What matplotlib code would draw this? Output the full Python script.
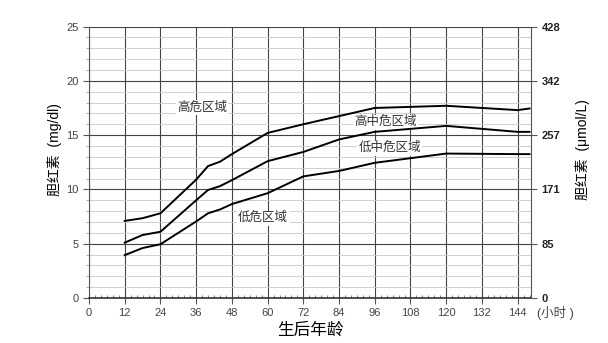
import matplotlib
matplotlib.use("Agg")
import matplotlib.pyplot as plt
from matplotlib.ticker import MultipleLocator

plt.rcParams['font.family'] = ['Liberation Sans', 'Noto Sans CJK SC', 'DejaVu Sans']

hours = [12, 18, 24, 36, 40, 44, 48, 60, 72, 84, 96, 120, 144, 148]
high = [7.1, 7.35, 7.8, 10.9, 12.15, 12.55, 13.25, 15.2, 16.0, 16.75, 17.5, 17.7, 17.3, 17.45]
mid = [5.1, 5.8, 6.1, 9.0, 9.95, 10.3, 10.85, 12.6, 13.45, 14.6, 15.3, 15.85, 15.3, 15.3]
low = [3.95, 4.6, 4.95, 7.05, 7.8, 8.15, 8.65, 9.65, 11.2, 11.7, 12.45, 13.3, 13.25, 13.25]

xticks = [0, 12, 24, 36, 48, 60, 72, 84, 96, 108, 120, 132, 144]
yticks = [0, 5, 10, 15, 20, 25]
right_labels = ["0", "85", "171", "257", "342", "428"]

zones = [("高危区域", 38, 17.5), ("高中危区域", 99.5, 16.2),
         ("低中危区域", 101, 13.8), ("低危区域", 58.5, 7.35)]

fig = plt.figure(figsize=(6.08, 3.43), dpi=100)
ax = fig.add_axes([0.1464, 0.1312, 0.7270, 0.7915])
ax.set_xlim(0, 148.5)
ax.set_ylim(0, 25)

ax.set_xticks(xticks)
ax.set_yticks(yticks)
ax.xaxis.set_minor_locator(MultipleLocator(2))
ax.yaxis.set_minor_locator(MultipleLocator(1))
ax.grid(True, which='major', color='#444444', linewidth=0.8)
ax.grid(True, which='minor', axis='y', color='#c8c8c8', linewidth=0.6)
ax.set_axisbelow(True)

for s in ['top', 'right']:
    ax.spines[s].set_visible(False)
ax.spines['left'].set_color('#555555')
ax.spines['bottom'].set_color('#333333')
ax.spines['bottom'].set_linewidth(1.2)

ax.tick_params(axis='both', which='major', labelsize=8, colors='#555555', length=4, width=0.8)
ax.tick_params(axis='x', which='minor', direction='in', length=2.5, width=0.6, colors='#666666')
ax.tick_params(axis='y', which='minor', length=2, width=0.5, colors='#888888')
for lab in ax.get_xticklabels() + ax.get_yticklabels():
    lab.set_color('#444444')

for series in (high, mid, low):
    ax.plot(hours, series, color='black', linewidth=1.4, zorder=3)

for txt, x, y in zones:
    ax.text(x, y, txt, fontsize=9, ha='center', va='center', color='#333333', zorder=2,
            bbox=dict(facecolor='white', edgecolor='none', pad=1))

ax2 = ax.twinx()
ax2.set_ylim(0, 25)
ax2.set_yticks(yticks)
ax2.set_yticklabels(right_labels)
for s in ['top', 'left', 'bottom']:
    ax2.spines[s].set_visible(False)
ax2.spines['right'].set_color('#555555')
ax2.tick_params(axis='y', labelsize=8, colors='#555555', length=4, width=0.8)
for lab in ax2.get_yticklabels():
    lab.set_color('#222222')
    lab.set_fontweight('bold')

ax.set_ylabel("胆红素  (mg/dl)", fontsize=10)
ax.yaxis.set_label_coords(-0.061, 0.545)
ax2.set_ylabel("胆红素  (μmol/L)", fontsize=10, rotation=90)
ax2.yaxis.set_label_coords(1.10, 0.545)
ax.set_xlabel("生后年龄", fontsize=12, labelpad=3)
fig.text(555 / 608, 1 - 313 / 343, "(小时 )", fontsize=9, ha='center', va='center', color='#444444')

fig.savefig("out.png", dpi=100)
